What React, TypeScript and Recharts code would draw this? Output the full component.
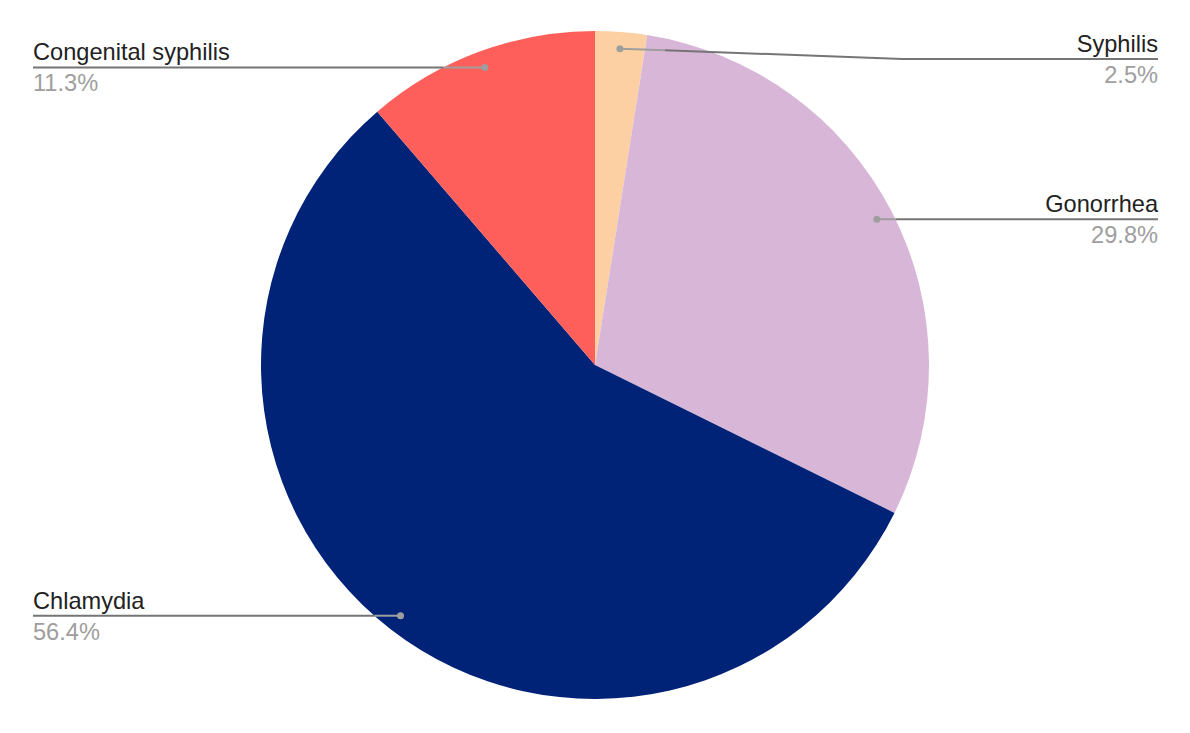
import React from "react";
import { PieChart, Pie, Cell } from "recharts";

const diseases = ["Syphilis", "Gonorrhea", "Chlamydia", "Congenital syphilis"];
const shares = [2.5, 29.8, 56.4, 11.3];
const colors = ["#FCD0A3", "#D8B6D8", "#002277", "#FF5F5B"];

const data = diseases.map((name, i) => ({ name, value: shares[i] }));

const RAD = Math.PI / 180;
const FONT = "Arial, 'Liberation Sans', sans-serif";

function SliceLabel(props: any) {
  const { cx, cy, midAngle, outerRadius, name, value } = props;
  const r = outerRadius * 0.95;
  const dx = cx + r * Math.cos(-midAngle * RAD);
  const dy = cy + r * Math.sin(-midAngle * RAD);
  const left = dx < cx;
  const endX = left ? 33 : 1158;
  const ly = Math.max(dy, cy - outerRadius + 28);

  // leader line: lighter inside the pie, darker outside
  let outer: string;
  let inner: string;
  if (ly !== dy) {
    const bx = cx + outerRadius * 0.92;
    inner = `${dx},${dy} ${dx + 45},${dy + ((ly - dy) * 45) / (bx - dx)}`;
    outer = `${dx + 45},${dy + ((ly - dy) * 45) / (bx - dx)} ${bx},${ly} ${endX},${ly}`;
  } else {
    const half = Math.sqrt(Math.max(0, outerRadius * outerRadius - (ly - cy) * (ly - cy)));
    const edgeX = left ? cx - half : cx + half;
    outer = `${edgeX},${ly} ${endX},${ly}`;
    inner = `${dx},${dy} ${edgeX},${ly}`;
  }

  return (
    <g>
      <polyline points={inner} fill="none" stroke="#9e9e9e" strokeWidth={2} />
      <polyline points={outer} fill="none" stroke="#757575" strokeWidth={2} />
      <circle cx={dx} cy={dy} r={3.5} fill="#9e9e9e" />
      <text x={endX} y={ly - 7} textAnchor={left ? "start" : "end"} fontFamily={FONT} fontSize={23.6} fill="#222222">
        {name}
      </text>
      <text x={endX} y={ly + 24} textAnchor={left ? "start" : "end"} fontFamily={FONT} fontSize={23.6} fill="#9e9e9e">
        {value.toFixed(1)}%
      </text>
    </g>
  );
}

export default function App() {
  return (
    <div style={{ position: "absolute", left: 0, top: 0, width: 1190, height: 733, background: "#fff" }}>
      <PieChart width={1190} height={733} margin={{ top: 0, right: 0, bottom: 0, left: 0 }}>
        <Pie
          data={data}
          dataKey="value"
          nameKey="name"
          cx={595}
          cy={365}
          outerRadius={334}
          startAngle={90}
          endAngle={-270}
          stroke="none"
          label={SliceLabel}
          labelLine={false}
          isAnimationActive={false}
        >
          {data.map((d, i) => (
            <Cell key={d.name} fill={colors[i]} />
          ))}
        </Pie>
      </PieChart>
    </div>
  );
}
